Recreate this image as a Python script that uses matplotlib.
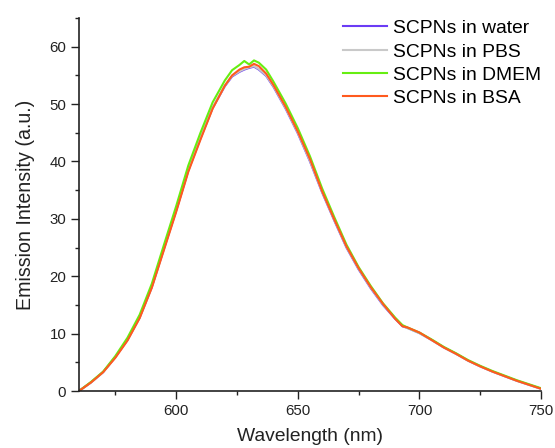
import matplotlib
matplotlib.use('Agg')
import matplotlib.pyplot as plt
from matplotlib.ticker import MultipleLocator

plt.rcParams['font.family'] = ['Liberation Sans', 'DejaVu Sans']

# wavelength grid (nm) and emission
wavelength = [560, 565, 570, 575, 580, 585, 590, 595, 600, 605, 610, 615, 620,
              623, 626, 628, 630, 632, 634, 637, 640, 645, 650, 655, 660, 665,
              670, 675, 680, 685, 690, 693, 695, 700, 705, 710, 715, 720, 725,
              730, 735, 740, 745, 750]

water = [0.0, 1.5, 3.3, 5.9, 8.9, 12.8, 18.1, 24.8, 31.4, 38.4, 44.0, 49.3, 53.1,
         54.8, 55.6, 56.0, 56.3, 56.5, 56.0, 54.9, 53.0, 49.2, 44.9, 40.0, 34.6, 29.7,
         25.0, 21.2, 17.9, 15.0, 12.6, 11.3, 11.0, 10.1, 8.9, 7.6, 6.5, 5.3, 4.3,
         3.4, 2.6, 1.8, 1.1, 0.4]

pbs = [0.0, 1.5, 3.3, 5.9, 9.0, 12.9, 18.2, 24.9, 31.5, 38.5, 44.1, 49.4, 53.2,
       54.9, 55.7, 56.1, 56.4, 56.6, 56.1, 55.0, 53.1, 49.3, 45.0, 40.1, 34.7, 29.8,
       25.1, 21.3, 18.0, 15.1, 12.7, 11.4, 11.0, 10.1, 8.9, 7.6, 6.5, 5.3, 4.3,
       3.4, 2.6, 1.8, 1.1, 0.4]

dmem = [0.0, 1.6, 3.4, 6.1, 9.3, 13.3, 18.7, 25.5, 32.2, 39.3, 45.0, 50.3, 54.1,
        55.9, 56.8, 57.5, 56.9, 57.6, 57.2, 56.0, 53.9, 50.1, 45.8, 40.9, 35.3, 30.3,
        25.5, 21.6, 18.3, 15.3, 12.8, 11.5, 11.1, 10.2, 9.0, 7.7, 6.6, 5.4, 4.4,
        3.5, 2.7, 1.9, 1.2, 0.5]

bsa = [0.0, 1.5, 3.3, 5.8, 8.8, 12.7, 18.0, 24.6, 31.2, 38.2, 43.8, 49.2, 53.2,
       55.0, 56.0, 56.4, 56.5, 57.0, 56.6, 55.3, 53.3, 49.5, 45.2, 40.4, 34.8, 29.9,
       25.2, 21.4, 18.1, 15.2, 12.6, 11.3, 11.1, 10.2, 8.9, 7.6, 6.5, 5.3, 4.3,
       3.4, 2.6, 1.8, 1.1, 0.4]

labels = ['SCPNs in water', 'SCPNs in PBS', 'SCPNs in DMEM', 'SCPNs in BSA']
colors = ['#6b3cf5', '#c9c9c9', '#66ee11', '#ff5a1e']

fig = plt.figure(figsize=(5.55, 4.48), dpi=100)
ax = fig.add_axes([0.142, 0.127, 0.833, 0.833])

for series, lab, col in zip([water, pbs, dmem, bsa], labels, colors):
    ax.plot(wavelength, series, color=col, lw=1.5, label=lab)

ax.set_xlim(560, 750)
ax.set_ylim(0, 65)
ax.xaxis.set_major_locator(MultipleLocator(50))
ax.xaxis.set_minor_locator(MultipleLocator(25))
ax.yaxis.set_major_locator(MultipleLocator(10))
ax.yaxis.set_minor_locator(MultipleLocator(5))

for side in ['top', 'right']:
    ax.spines[side].set_visible(False)
for side in ['left', 'bottom']:
    ax.spines[side].set_linewidth(1.2)
    ax.spines[side].set_color('#222222')

ax.tick_params(which='major', direction='out', length=5.5, width=1.0, labelsize=10.8,
               colors='#222222')
ax.tick_params(which='minor', direction='out', length=3, width=1.0, colors='#222222')

ax.set_xlabel('Wavelength (nm)', fontsize=13.9, color='#222222')
ax.set_ylabel('Emission Intensity (a.u.)', fontsize=14.1, color='#222222')
ax.xaxis.set_label_coords(0.5, -0.1)
ax.yaxis.set_label_coords(-0.095, 0.5)

ax.legend(loc='upper left', bbox_to_anchor=(343 / 555, 0.956), bbox_transform=fig.transFigure,
          frameon=False, fontsize=13.9, handlelength=2.27, handletextpad=0.3,
          labelspacing=0.3, borderpad=0, borderaxespad=0)

fig.savefig('out.png', dpi=100)
